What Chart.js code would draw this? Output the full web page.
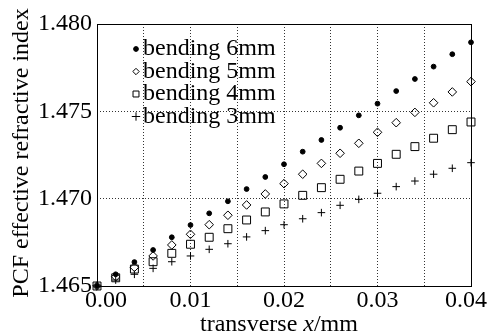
<!DOCTYPE html>
<html>
<head>
<meta charset="utf-8">
<script src="https://cdn.jsdelivr.net/npm/chart.js@4/dist/chart.umd.min.js"></script>
<style>
  html, body { margin: 0; padding: 0; background: #fff; }
  #wrap { width: 490px; height: 335px; }
</style>
</head>
<body>
<div id="wrap"><canvas id="c" width="490" height="335"></canvas></div>
<script>
// ---- data ----
const xValues = [0.000, 0.002, 0.004, 0.006, 0.008, 0.010, 0.012, 0.014, 0.016, 0.018, 0.020,
                 0.022, 0.024, 0.026, 0.028, 0.030, 0.032, 0.034, 0.036, 0.038, 0.040];
const bend6mm = [1.46500, 1.46567, 1.46637, 1.46706, 1.46779, 1.46849, 1.46916, 1.46985, 1.47055, 1.47124, 1.47197,
                 1.47269, 1.47336, 1.47406, 1.47477, 1.47544, 1.47616, 1.47685, 1.47756, 1.47827, 1.47895];
const bend5mm = [1.46500, 1.46553, 1.46607, 1.46672, 1.46735, 1.46796, 1.46851, 1.46905, 1.46964, 1.47027, 1.47086,
                 1.47140, 1.47202, 1.47260, 1.47317, 1.47380, 1.47435, 1.47494, 1.47549, 1.47611, 1.47670];
const bend4mm = [1.46500, 1.46547, 1.46597, 1.46639, 1.46687, 1.46739, 1.46779, 1.46828, 1.46878, 1.46924, 1.46970,
                 1.47019, 1.47063, 1.47111, 1.47158, 1.47202, 1.47254, 1.47298, 1.47346, 1.47395, 1.47439];
const bend3mm = [1.46500, 1.46534, 1.46567, 1.46601, 1.46639, 1.46672, 1.46710, 1.46742, 1.46781, 1.46817, 1.46851,
                 1.46885, 1.46920, 1.46962, 1.46996, 1.47031, 1.47069, 1.47101, 1.47140, 1.47174, 1.47206];
const seriesLabels = ['bending 6mm', 'bending 5mm', 'bending 4mm', 'bending 3mm'];
const xTickValues = [0.000, 0.005, 0.010, 0.015, 0.020, 0.025, 0.030, 0.035, 0.040];
const xTickLabels = ['0.00', '', '0.01', '', '0.02', '', '0.03', '', '0.04'];
const yTickValues = [1.465, 1.470, 1.475, 1.480];
const yTickLabels = ['1.465', '1.470', '1.475', '1.480'];
const xTitleParts = ['transverse ', 'x', '/mm'];
const yTitle = 'PCF effective refractive index';

const FONT = "'Liberation Serif', 'Times New Roman', serif";

function pts(ys) { return xValues.map((x, i) => ({ x: x, y: ys[i] })); }

const styles = [
  { pointStyle: 'circle',  pointRadius: 2.4, bg: '#000' },
  { pointStyle: 'rectRot', pointRadius: 4.3, bg: 'rgba(0,0,0,0)' },
  { pointStyle: 'rect',    pointRadius: 5.6, bg: 'rgba(0,0,0,0)' },
  { pointStyle: 'cross',   pointRadius: 3.8, bg: 'rgba(0,0,0,0)' }
];
const seriesData = [bend6mm, bend5mm, bend4mm, bend3mm];

const datasets = seriesData.map((d, i) => ({
  label: seriesLabels[i],
  data: pts(d),
  showLine: false,
  pointStyle: styles[i].pointStyle,
  pointRadius: styles[i].pointRadius,
  pointHoverRadius: styles[i].pointRadius,
  pointBackgroundColor: styles[i].bg,
  pointBorderColor: '#000',
  pointBorderWidth: 1,
  clip: false
}));

const decor = {
  id: 'decor',
  afterDraw(chart) {
    const ctx = chart.ctx;
    const a = chart.chartArea;
    const xs = chart.scales.x;
    ctx.save();
    // frame
    ctx.strokeStyle = '#000';
    ctx.lineWidth = 1;
    ctx.setLineDash([]);
    ctx.strokeRect(Math.round(a.left) + 0.5, Math.round(a.top) + 0.5,
                   Math.round(a.right - a.left), Math.round(a.bottom - a.top));
    // x tick labels
    ctx.fillStyle = '#000';
    ctx.font = '24px ' + FONT;
    ctx.textAlign = 'center';
    ctx.textBaseline = 'alphabetic';
    xTickValues.forEach((v, i) => {
      const lab = xTickLabels[i];
      if (!lab) return;
      let px = xs.getPixelForValue(v);
      if (i === 0) px += 9;
      if (i === xTickValues.length - 1) px -= 5;
      ctx.fillText(lab, px, a.bottom + 21);
    });
    // x title with italic x
    let tx = 200, ty = 331;
    ctx.textAlign = 'left';
    xTitleParts.forEach((p, i) => {
      ctx.font = (i === 1 ? 'italic ' : '') + '24px ' + FONT;
      ctx.fillText(p, tx, ty);
      tx += ctx.measureText(p).width;
    });
    // y title
    ctx.save();
    ctx.translate(28, (a.top + a.bottom) / 2 - 2);
    ctx.rotate(-Math.PI / 2);
    ctx.font = '24px ' + FONT;
    ctx.textAlign = 'center';
    ctx.fillText(yTitle, 0, 0);
    ctx.restore();
    // legend
    const rowBase = [55, 77.5, 100, 122.5];
    chart.data.datasets.forEach((ds, i) => {
      const my = rowBase[i] - 6;
      const mx = 136;
      ctx.save();
      ctx.strokeStyle = '#000';
      ctx.fillStyle = ds.pointBackgroundColor;
      ctx.lineWidth = 1;
      const r = [2.4, 3.2, 4.2, 4.2][i];
      Chart.helpers.drawPoint(ctx, { pointStyle: ds.pointStyle, radius: r, borderWidth: 1, rotation: 0 }, mx, my);
      ctx.restore();
      ctx.font = '24px ' + FONT;
      ctx.fillStyle = '#000';
      ctx.textAlign = 'left';
      ctx.fillText(ds.label, 143, rowBase[i]);
    });
    ctx.restore();
  }
};

new Chart(document.getElementById('c'), {
  type: 'scatter',
  data: { datasets },
  options: {
    responsive: false,
    animation: false,
    devicePixelRatio: 1,
    layout: { padding: { left: 0, right: 19, top: 24, bottom: 0 } },
    plugins: { legend: { display: false }, tooltip: { enabled: false }, title: { display: false } },
    scales: {
      x: {
        type: 'linear',
        min: 0, max: 0.04,
        afterBuildTicks: (s) => { s.ticks = xTickValues.map(v => ({ value: v })); },
        afterFit: (s) => { s.height = 49; },
        ticks: { display: false },
        grid: { color: '#333', lineWidth: 1, drawTicks: false },
        border: { display: false, dash: [1, 2] }
      },
      y: {
        type: 'linear',
        min: 1.465, max: 1.480,
        afterBuildTicks: (s) => { s.ticks = yTickValues.map(v => ({ value: v })); },
        afterFit: (s) => { s.width = 97; },
        ticks: {
          color: '#000',
          padding: 5,
          font: { family: FONT, size: 24 },
          callback: (v, i) => yTickLabels[i]
        },
        grid: { color: '#333', lineWidth: 1, drawTicks: false },
        border: { display: false, dash: [1, 2] }
      }
    }
  },
  plugins: [decor]
});
</script>
</body>
</html>
